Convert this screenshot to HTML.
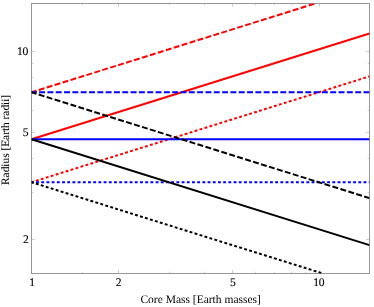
<!DOCTYPE html>
<html><head><meta charset="utf-8"><style>
html,body{margin:0;padding:0;background:#fff;}
svg{display:block;}
text{font-family:"Liberation Serif",serif;font-size:11.35px;fill:#000;text-rendering:geometricPrecision;}
.t{font-size:11.6px;stroke:#000;stroke-width:0.12px;letter-spacing:-0.35px}
</style></head><body>
<svg width="374" height="307" viewBox="0 0 374 307">
<rect width="374" height="307" fill="#fff"/>
<defs><clipPath id="c"><rect x="31.5" y="3.5" width="338.0" height="270.0"/></clipPath></defs>

<g stroke="#d0d0d0" stroke-width="1" fill="none">
<path d="M118.5 273.5v-3.5M118.5 3.5v3.5"/>
<path d="M232.5 273.5v-3.5M232.5 3.5v3.5"/>
<path d="M319.5 273.5v-3.5M319.5 3.5v3.5"/>
<path d="M82.5 273.5v-1.8M82.5 3.5v1.8"/>
<path d="M169.5 273.5v-1.8M169.5 3.5v1.8"/>
<path d="M204.5 273.5v-1.8M204.5 3.5v1.8"/>
<path d="M255.5 273.5v-1.8M255.5 3.5v1.8"/>
<path d="M274.5 273.5v-1.8M274.5 3.5v1.8"/>
<path d="M291.5 273.5v-1.8M291.5 3.5v1.8"/>
<path d="M305.5 273.5v-1.8M305.5 3.5v1.8"/>
<path d="M31.5 239.5h3.5M369.5 239.5h-3.5"/>
<path d="M31.5 132.5h3.5M369.5 132.5h-3.5"/>
<path d="M31.5 51.5h3.5M369.5 51.5h-3.5"/>
<path d="M31.5 192.5h1.8M369.5 192.5h-1.8"/>
<path d="M31.5 158.5h1.8M369.5 158.5h-1.8"/>
<path d="M31.5 110.5h1.8M369.5 110.5h-1.8"/>
<path d="M31.5 92.5h1.8M369.5 92.5h-1.8"/>
<path d="M31.5 77.5h1.8M369.5 77.5h-1.8"/>
<path d="M31.5 63.5h1.8M369.5 63.5h-1.8"/>
</g>
<rect x="31.5" y="3.5" width="338.0" height="270.0" fill="none" stroke="#969696" stroke-width="1"/>
<g clip-path="url(#c)" fill="none" stroke-width="2">
<line x1="31.5" y1="139.30" x2="369.5" y2="33.45" stroke="#ff0000"/>
<line x1="31.5" y1="92.30" x2="314.5" y2="3.68" stroke="#ff0000" stroke-dasharray="5.95 2.368" stroke-dashoffset="0.72"/>
<line x1="31.5" y1="182.25" x2="369.5" y2="76.40" stroke="#ff0000" stroke-dasharray="2.9 2.298" stroke-dashoffset="0.65"/>
<line x1="31.5" y1="139.30" x2="369.5" y2="139.30" stroke="#0000ff"/>
<line x1="31.5" y1="92.30" x2="369.5" y2="92.30" stroke="#0000ff" stroke-dasharray="5.95 2.368" stroke-dashoffset="0.72"/>
<line x1="31.5" y1="182.25" x2="369.5" y2="182.25" stroke="#0000ff" stroke-dasharray="2.9 2.298" stroke-dashoffset="0.65"/>
<line x1="31.5" y1="139.30" x2="369.5" y2="245.15" stroke="#000000"/>
<line x1="31.5" y1="92.30" x2="369.5" y2="198.15" stroke="#000000" stroke-dasharray="5.95 2.368" stroke-dashoffset="0.72"/>
<line x1="31.5" y1="182.25" x2="321.3" y2="273.00" stroke="#000000" stroke-dasharray="2.9 2.298" stroke-dashoffset="0.65"/>
</g>
<g style="filter:grayscale(1)">
<text class="t" x="31.90" y="285.9" text-anchor="middle">1</text>
<text class="t" x="118.41" y="285.9" text-anchor="middle">2</text>
<text class="t" x="232.78" y="285.9" text-anchor="middle">5</text>
<text class="t" x="318.79" y="285.9" text-anchor="middle">10</text>
<text class="t" x="28.35" y="243.0" text-anchor="end">2</text>
<text class="t" x="28.3" y="135.9" text-anchor="end">5</text>
<text class="t" x="27.9" y="55.0" text-anchor="end">10</text>
<text x="200.65" y="303.1" text-anchor="middle" style="font-size:11.5px">Core Mass [Earth masses]</text>
<text transform="translate(8.8 139.9) rotate(-90)" text-anchor="middle" style="stroke:#000;stroke-width:0.07px">Radius [Earth radii]</text>
</g>
</svg></body></html>
